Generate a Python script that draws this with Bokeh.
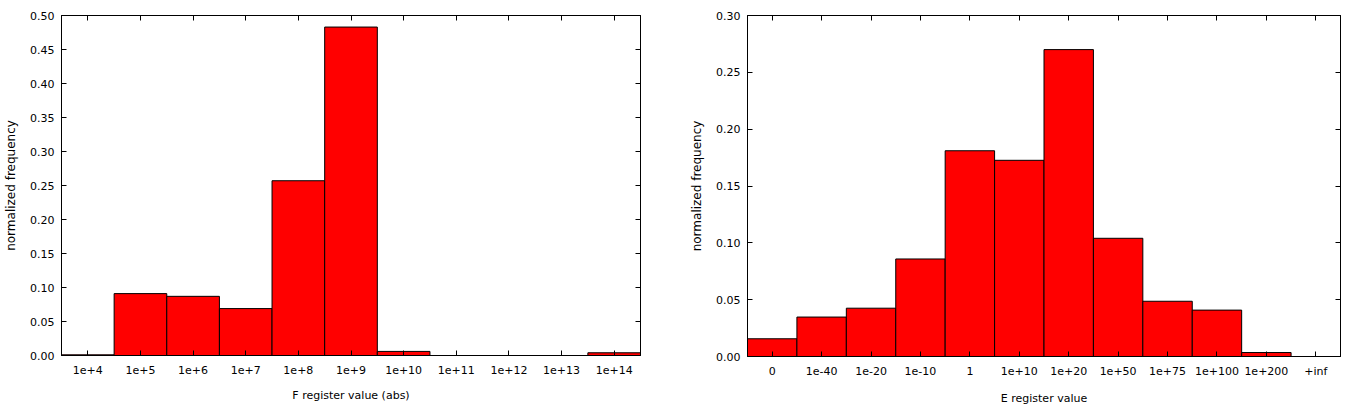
from bokeh.plotting import figure
from bokeh.layouts import row
from bokeh.models import (FactorRange, Range1d, LinearAxis, CategoricalAxis, FixedTicker,
                          NumeralTickFormatter, CustomLabelingPolicy)
from bokeh.embed import file_html
from bokeh.resources import INLINE

# ---- data ----
f_categories = ["1e+4", "1e+5", "1e+6", "1e+7", "1e+8", "1e+9", "1e+10",
                "1e+11", "1e+12", "1e+13", "1e+14"]
f_values = [0.001, 0.091, 0.087, 0.069, 0.257, 0.483, 0.006, 0.0, 0.0, 0.0, 0.004]
f_yticks = [0.0, 0.05, 0.10, 0.15, 0.20, 0.25, 0.30, 0.35, 0.40, 0.45, 0.50]

e_categories = ["0", "1e-40", "1e-20", "1e-10", "1", "1e+10", "1e+20", "1e+50",
                "1e+75", "1e+100", "1e+200", "+inf"]
e_values = [0.0156, 0.0347, 0.0425, 0.0858, 0.181, 0.1726, 0.270, 0.104,
            0.0486, 0.0408, 0.0035, 0.0]
e_yticks = [0.0, 0.05, 0.10, 0.15, 0.20, 0.25, 0.30]

FONT = "DejaVu Sans"
FS = "11px"


def style_axis(ax, show_labels=True):
    ax.major_tick_in = 5
    ax.major_tick_out = 0
    ax.minor_tick_in = 0
    ax.minor_tick_out = 0
    ax.axis_line_color = "black"
    ax.major_tick_line_color = "black"
    ax.major_label_text_font = FONT
    ax.major_label_text_color = "black"
    ax.major_label_text_font_size = FS
    ax.major_label_text_line_height = 1.0
    ax.axis_label_text_font = FONT
    ax.axis_label_text_font_style = "normal"
    ax.axis_label_text_font_size = FS
    ax.axis_label_text_line_height = 1.0
    ax.axis_label_text_color = "black"
    if not show_labels:
        ax.major_label_policy = CustomLabelingPolicy(code="return []")
        ax.major_label_text_font_size = "0px"
        ax.major_label_standoff = 0


def make(cats, vals, yticks, ymax, xlabel, width, height, bl, br, bt, bb,
         x_tick_standoff, x_label_standoff):
    p = figure(x_range=FactorRange(*cats), y_range=Range1d(0, ymax),
               width=width, height=height, output_backend="svg",
               toolbar_location=None, min_border_left=bl, min_border_right=br,
               min_border_top=bt, min_border_bottom=bb)
    p.vbar(x=cats, top=vals, width=1.0, fill_color="#ff0000",
           line_color="black", line_width=1)
    p.xgrid.visible = False
    p.ygrid.visible = False
    p.outline_line_color = "black"
    p.outline_line_alpha = 1.0

    yax = p.yaxis[0]
    yax.ticker = FixedTicker(ticks=yticks)
    yax.formatter = NumeralTickFormatter(format="0.00")
    style_axis(yax)
    yax.major_label_standoff = 7
    yax.axis_label = "normalized frequency"
    yax.axis_label_text_font_size = "12px"
    yax.axis_label_standoff = 9

    xax = p.xaxis[0]
    style_axis(xax)
    xax.major_label_standoff = x_tick_standoff
    xax.axis_label = xlabel
    xax.axis_label_standoff = x_label_standoff

    yr = LinearAxis(ticker=FixedTicker(ticks=yticks))
    style_axis(yr, show_labels=False)
    p.add_layout(yr, "right")

    xt = CategoricalAxis()
    style_axis(xt, show_labels=False)
    p.add_layout(xt, "above")
    return p


p1 = make(f_categories, f_values, f_yticks, 0.5, "F register value (abs)",
          680, 410, 61, 40, 15, 55, 10, 12)
p2 = make(e_categories, e_values, e_yticks, 0.3, "E register value",
          676, 411, 67, 16, 13, 52, 8, 11)

layout = row(p1, p2)
open("out.html", "w").write(file_html(layout, INLINE))
